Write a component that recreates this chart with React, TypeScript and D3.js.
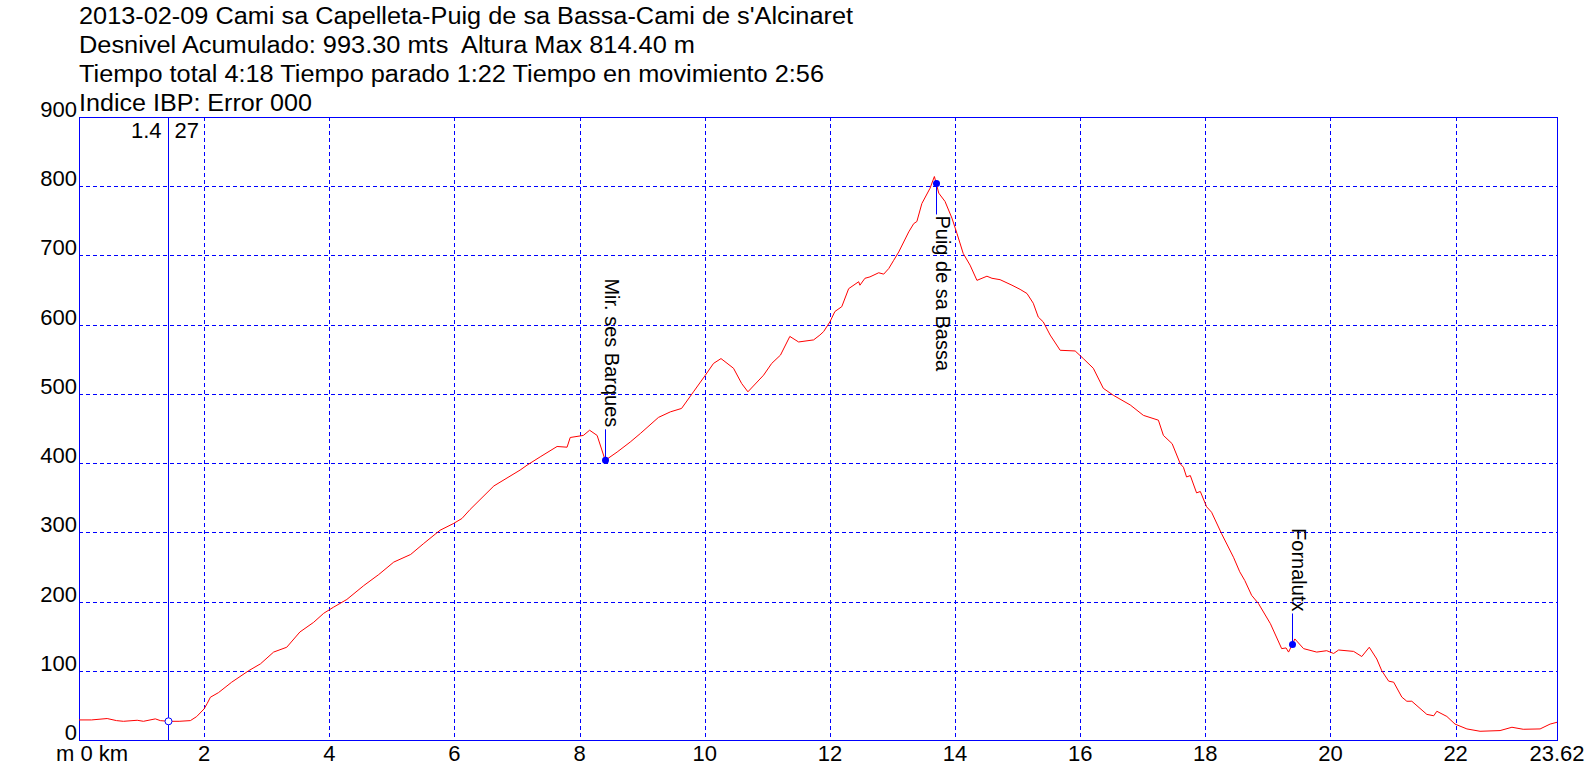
import React from "react";
import * as d3 from "d3";

const titleLines = [
  "2013-02-09 Cami sa Capelleta-Puig de sa Bassa-Cami de s'Alcinaret",
  "Desnivel Acumulado: 993.30 mts  Altura Max 814.40 m",
  "Tiempo total 4:18 Tiempo parado 1:22 Tiempo en movimiento 2:56",
  "Indice IBP: Error 000",
];
const titleWidths = [774, 616, 745, 233];

const kmValues = [
  0.0, 0.2, 0.45, 0.6, 0.71, 0.93, 1.03, 1.22, 1.3, 1.43, 1.6, 1.78, 1.88, 2.0, 2.05, 2.1, 2.23, 2.44, 2.71, 2.9,
  3.11, 3.32, 3.53, 3.75, 3.91, 4.07, 4.28, 4.55, 4.79, 5.03, 5.3, 5.51, 5.77, 5.98, 6.12, 6.25, 6.63, 7.05, 7.16, 7.37,
  7.64, 7.8, 7.85, 8.06, 8.16, 8.28, 8.41, 8.6, 8.81, 8.97, 9.26, 9.45, 9.63, 9.82, 10.01, 10.14, 10.26, 10.46, 10.59, 10.69,
  10.94, 11.07, 11.21, 11.36, 11.5, 11.74, 11.84, 11.9, 12.0, 12.08, 12.19, 12.3, 12.46, 12.48, 12.56, 12.64, 12.78, 12.86, 12.94, 13.02,
  13.1, 13.26, 13.34, 13.39, 13.47, 13.6, 13.67, 13.7, 13.74, 13.84, 13.95, 14.03, 14.13, 14.24, 14.35, 14.51, 14.59, 14.72, 14.91, 15.04,
  15.15, 15.25, 15.33, 15.41, 15.52, 15.68, 15.92, 16.05, 16.21, 16.37, 16.53, 16.8, 17.01, 17.25, 17.33, 17.47, 17.6, 17.65, 17.7, 17.76,
  17.86, 17.92, 18.02, 18.1, 18.26, 18.45, 18.55, 18.63, 18.74, 18.85, 19.04, 19.22, 19.29, 19.33, 19.39, 19.43, 19.57, 19.78, 19.94, 20.05,
  20.13, 20.37, 20.5, 20.62, 20.74, 20.82, 20.93, 21.01, 21.14, 21.22, 21.3, 21.54, 21.65, 21.7, 21.86, 21.99, 22.18, 22.39, 22.71, 22.9,
  23.08, 23.35, 23.51, 23.62,
];
const elevValues = [
  29, 29, 31, 28, 27, 28.5, 27, 30.5, 28, 27, 27, 28, 33.8, 45, 53, 61.8, 68.5, 83.5, 100, 110,
  127, 134, 156, 170, 183, 192, 203, 223, 239, 257, 268, 284, 303, 312.5, 320, 333, 367, 390, 397, 409,
  424, 423, 437, 440, 447.5, 440, 404, 416, 430.5, 442.7, 466, 474, 479, 503, 527, 544, 551, 537, 515, 503,
  527, 544, 556, 583, 575, 578, 585, 590, 604, 619, 626, 652, 662, 657, 667, 669, 675, 673, 681, 693,
  705, 734, 746, 749, 775, 797, 814, 804, 790, 778, 754, 732, 703, 686, 664, 670, 667, 665, 657, 651,
  645, 631, 611, 604, 585, 563, 562, 551, 537, 508, 498, 484, 469, 462, 440, 428, 399, 394, 380, 382,
  357, 359, 337, 329, 298, 264, 243, 230.5, 209, 197, 168, 132, 133, 127, 138, 146, 132, 127, 129, 125,
  130, 128, 120.6, 134, 117, 100, 85, 83.5, 62, 56, 56, 37, 35, 41.5, 34, 23, 16, 12.6, 13.6, 18.4,
  15.5, 16, 23, 25.6,
];

const wpNames = ["Mir. ses Barques", "Puig de sa Bassa", "Fornalutx"];
const wpKm = [8.41, 13.7, 19.39];
const wpElev = [404, 804, 138];
const wpSide = ["up", "down", "up"];

const cursorKm = 1.43;
const cursorElev = 27;

const yTicks = [0, 100, 200, 300, 400, 500, 600, 700, 800, 900];
const xTicks = [2, 4, 6, 8, 10, 12, 14, 16, 18, 20, 22];
const totalKm = 23.62;

const BLUE = "#0000FF";
const FONT = "'Liberation Sans', Arial, sans-serif";

export default function App() {
  const x = d3.scaleLinear().domain([0, totalKm]).range([79, 1557]);
  const y = d3.scaleLinear().domain([0, 900]).range([740, 117]);
  const data = kmValues.map((k, i) => [k, elevValues[i]] as [number, number]);
  const line = d3
    .line<[number, number]>()
    .x((d) => x(d[0]))
    .y((d) => y(d[1]));
  const px = (v: number) => Math.round(v) + 0.5;
  const cx = x(cursorKm);

  return (
    <svg
      width={1596}
      height={778}
      style={{ position: "absolute", left: 0, top: 0, background: "#fff" }}
      fontFamily={FONT}
    >
      <rect x={0} y={0} width={1596} height={778} fill="#fff" />
      {titleLines.map((t, i) => (
        <text
          key={t}
          x={79}
          y={24.1 + i * 28.8}
          fontSize={23}
          textLength={titleWidths[i]}
          lengthAdjust="spacingAndGlyphs"
          fill="#000"
          style={{ whiteSpace: "pre" }}
        >
          {t}
        </text>
      ))}
      {/* grid */}
      {yTicks
        .filter((v) => v > 0 && v < 900)
        .map((v) => (
          <line
            key={"gy" + v}
            x1={x(0)}
            x2={x(totalKm)}
            y1={px(y(v))}
            y2={px(y(v))}
            stroke={BLUE}
            strokeWidth={1}
            strokeDasharray="4,3"
          />
        ))}
      {xTicks.map((v) => (
        <line
          key={"gx" + v}
          x1={px(x(v))}
          x2={px(x(v))}
          y1={y(900)}
          y2={y(0)}
          stroke={BLUE}
          strokeWidth={1}
          strokeDasharray="4,3"
        />
      ))}
      {/* border */}
      <rect
        x={px(x(0))}
        y={px(y(900))}
        width={Math.round(x(totalKm)) - Math.round(x(0))}
        height={Math.round(y(0)) - Math.round(y(900))}
        fill="none"
        stroke={BLUE}
        strokeWidth={1}
      />
      {/* y labels */}
      {yTicks.map((v) => (
        <text key={"yl" + v} x={77} y={y(v)} fontSize={22} textAnchor="end" fill="#000">
          {v}
        </text>
      ))}
      {/* x labels */}
      <text x={x(0) - 23} y={761} fontSize={22} fill="#000" style={{ whiteSpace: "pre" }}>
        m 0 km
      </text>
      {xTicks.map((v) => (
        <text key={"xl" + v} x={x(v)} y={761} fontSize={22} textAnchor="middle" fill="#000">
          {v}
        </text>
      ))}
      <text x={x(totalKm)} y={761} fontSize={22} textAnchor="middle" fill="#000">
        {totalKm.toFixed(2)}
      </text>
      {/* cursor */}
      <line x1={px(cx)} x2={px(cx)} y1={y(900)} y2={y(0)} stroke={BLUE} strokeWidth={1} />
      <text x={px(cx) - 7} y={137.7} fontSize={22} textAnchor="end" fill="#000">
        {d3.format(".1f")(cursorKm)}
      </text>
      <text x={px(cx) + 6} y={137.7} fontSize={22} fill="#000">
        {cursorElev}
      </text>
      {/* profile */}
      <path d={line(data) || ""} fill="none" stroke="#FF0000" strokeWidth={1} />
      <circle cx={px(cx)} cy={y(cursorElev)} r={3.5} fill="#fff" stroke={BLUE} strokeWidth={1} />
      {/* waypoints */}
      {wpNames.map((n, i) => {
        const wx = x(wpKm[i]);
        const wy = y(wpElev[i]);
        const up = wpSide[i] === "up";
        const lineEnd = up ? wy - 31 : wy + 31;
        const textPos = up ? wy - 33 : wy + 32;
        return (
          <g key={n}>
            <line x1={px(wx)} x2={px(wx)} y1={wy} y2={lineEnd} stroke={BLUE} strokeWidth={1} />
            <circle cx={px(wx)} cy={wy} r={3.5} fill={BLUE} />
            <text
              transform={`translate(${px(wx) - 1},${textPos}) rotate(90)`}
              fontSize={20}
              textAnchor={up ? "end" : "start"}
              fill="#000"
            >
              {n}
            </text>
          </g>
        );
      })}
    </svg>
  );
}
